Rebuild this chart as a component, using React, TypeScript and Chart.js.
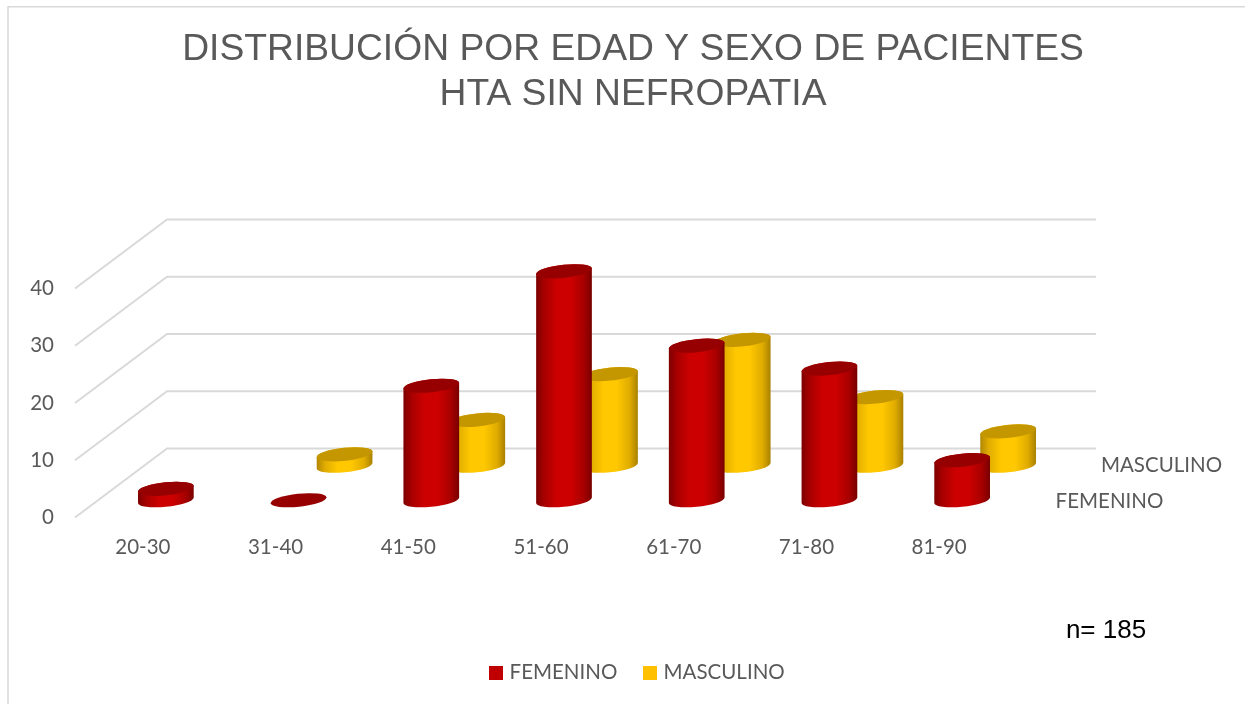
import React, { useEffect, useRef } from "react";
import { Chart, registerables } from "chart.js";

Chart.register(...registerables);

const categories = ["20-30", "31-40", "41-50", "51-60", "61-70", "71-80", "81-90"];
const femenino: (number | null)[] = [2, 0, 20, 40, 27, 23, 7];
const masculino: (number | null)[] = [null, 2, 8, 16, 22, 12, 6];
const titleLines = ["DISTRIBUCIÓN POR EDAD Y SEXO DE PACIENTES", "HTA SIN NEFROPATIA"];
const sampleNote = "n= 185";

const TEXT = "#595959";
const GRID = "#d9d9d9";
const DEPTH_X = 92;
const DEPTH_Y = -69;
const TILT = (-6 * Math.PI) / 180;
const RX = 28;
const RY = 6.5;
const LABEL_FONT = "Lato, 'Open Sans', sans-serif";
const LABEL_SIZE = 20.5;

const shades = [
  { top: "#960000", edgeL: "#7c0000", mid: "#a80000", core: "#cc0000", edgeR: "#780000", fill: "#c00000" },
  { top: "#c49600", edgeL: "#b08600", mid: "#e0ac00", core: "#ffc800", edgeR: "#a88000", fill: "#ffc000" },
];
const depthFraction = [0.25, 0.75];

function swatch(color: string) {
  const c = document.createElement("canvas");
  c.width = 14;
  c.height = 14;
  const g = c.getContext("2d")!;
  g.fillStyle = color;
  g.fillRect(0, 0, 14, 14);
  return c;
}

function drawCylinder(ctx: CanvasRenderingContext2D, cx: number, topY: number, baseY: number, s: (typeof shades)[number]) {
  const t0 = Math.atan2(-(RY / RX) * Math.tan(TILT), 1);
  if (baseY - topY > 0.5) {
    const g = ctx.createLinearGradient(cx - RX, 0, cx + RX, 0);
    g.addColorStop(0, s.edgeL);
    g.addColorStop(0.15, s.mid);
    g.addColorStop(0.38, s.core);
    g.addColorStop(0.62, s.core);
    g.addColorStop(0.85, s.mid);
    g.addColorStop(1, s.edgeR);
    ctx.beginPath();
    ctx.ellipse(cx, baseY, RX, RY, TILT, t0, t0 + Math.PI, false);
    ctx.ellipse(cx, topY, RX, RY, TILT, t0 + Math.PI, t0 + 2 * Math.PI, false);
    ctx.closePath();
    ctx.fillStyle = g;
    ctx.fill();
  }
  ctx.beginPath();
  ctx.ellipse(cx, topY, RX, RY, TILT, 0, 2 * Math.PI);
  ctx.fillStyle = s.top;
  ctx.fill();
}

const scenePlugin = {
  id: "scene3d",
  afterLayout(chart: any) {
    const legend = chart.legend;
    legend.left += 6;
    legend.right += 6;
    legend.top -= 4;
    legend.bottom -= 4;
  },
  beforeDraw(chart: any) {
    const { ctx, width, height } = chart;
    ctx.save();
    ctx.fillStyle = "#ffffff";
    ctx.fillRect(0, 0, width, height);
    ctx.strokeStyle = GRID;
    ctx.lineWidth = 1.5;
    ctx.beginPath();
    ctx.moveTo(8, height);
    ctx.lineTo(8, 6.7);
    ctx.lineTo(width, 6.7);
    ctx.stroke();
    ctx.restore();
  },
  beforeDatasetsDraw(chart: any) {
    const { ctx, chartArea, scales } = chart;
    ctx.save();
    ctx.strokeStyle = GRID;
    ctx.lineWidth = 2;
    ctx.lineJoin = "round";
    scales.y.ticks.forEach((t: any) => {
      const py = scales.y.getPixelForValue(t.value);
      ctx.beginPath();
      ctx.moveTo(chartArea.left - 1.5, py);
      ctx.lineTo(chartArea.left + DEPTH_X - 1.5, py + DEPTH_Y);
      ctx.lineTo(chartArea.right + DEPTH_X - 1.5, py + DEPTH_Y);
      ctx.stroke();
    });
    ctx.restore();
  },
  beforeDatasetDraw(chart: any, args: any) {
    const { ctx } = chart;
    const i = args.index;
    const s = shades[i];
    const dx = DEPTH_X * depthFraction[i];
    const dy = DEPTH_Y * depthFraction[i];
    const values = chart.data.datasets[i].data;
    args.meta.data.forEach((bar: any, k: number) => {
      if (values[k] === null) return;
      drawCylinder(ctx, bar.x + dx, bar.y + dy, bar.base + dy, s);
    });
    return false;
  },
  afterDraw(chart: any) {
    const { ctx, chartArea } = chart;
    ctx.save();
    ctx.textBaseline = "middle";
    ctx.textAlign = "center";
    ctx.fillStyle = TEXT;
    ctx.font = `${LABEL_SIZE}px ${LABEL_FONT}`;
    ctx.fillText(chart.data.datasets[1].label, chartArea.right + 156, chartArea.bottom - 52);
    ctx.fillText(chart.data.datasets[0].label, chartArea.right + 104, chartArea.bottom - 16);
    ctx.fillStyle = "#000000";
    ctx.font = "26px 'Liberation Sans', Arial, sans-serif";
    ctx.fillText(sampleNote, 1106, 630.5);
    ctx.restore();
  },
};

export default function App() {
  const ref = useRef<HTMLCanvasElement | null>(null);
  useEffect(() => {
    const chart = new Chart(ref.current!, {
      type: "bar",
      data: {
        labels: categories,
        datasets: [
          { label: "FEMENINO", data: femenino, backgroundColor: shades[0].fill },
          { label: "MASCULINO", data: masculino, backgroundColor: shades[1].fill },
        ],
      },
      plugins: [scenePlugin],
      options: {
        animation: false,
        responsive: false,
        devicePixelRatio: 1,
        layout: { padding: { left: 24, right: 3, top: 0, bottom: 7 } },
        datasets: { bar: { grouped: false, barThickness: 56 } },
        scales: {
          x: {
            grid: { display: false },
            border: { display: false },
            ticks: { color: TEXT, font: { family: LABEL_FONT, size: LABEL_SIZE }, padding: 10, maxRotation: 0 },
            afterFit: (s: any) => {
              s.height = 119;
            },
          },
          y: {
            min: 0,
            max: 40,
            grid: { display: false },
            border: { display: false },
            ticks: {
              stepSize: 10,
              color: TEXT,
              font: { family: LABEL_FONT, size: LABEL_SIZE },
              padding: 14.5,
            },
            afterFit: (s: any) => {
              s.width = 52.5;
            },
          },
          depthGutter: {
            type: "linear",
            position: "right",
            grid: { display: false },
            border: { display: false },
            ticks: { display: false },
            afterFit: (s: any) => {
              s.width = 236.5;
            },
          },
        },
        plugins: {
          tooltip: { enabled: false },
          title: {
            display: true,
            text: titleLines,
            color: TEXT,
            font: { family: "'Liberation Sans', Arial, sans-serif", size: 37.25, weight: "normal", lineHeight: 1.208 },
            padding: { top: 27, bottom: 171.5 },
          },
          legend: {
            position: "bottom",
            labels: {
              color: TEXT,
              font: { family: LABEL_FONT, size: LABEL_SIZE },
              padding: 30,
              usePointStyle: true,
              pointStyleWidth: 6,
              boxHeight: 14,
              generateLabels: (c: any) =>
                c.data.datasets.map((d: any, i: number) => ({
                  text: d.label,
                  fontColor: TEXT,
                  fillStyle: d.backgroundColor,
                  strokeStyle: d.backgroundColor,
                  lineWidth: 0,
                  hidden: false,
                  datasetIndex: i,
                  pointStyle: swatch(d.backgroundColor),
                })),
            },
          },
        },
      },
    } as any);
    return () => chart.destroy();
  }, []);
  return <canvas ref={ref} width={1245} height={704} style={{ position: "absolute", left: 0, top: 0, display: "block" }} />;
}
